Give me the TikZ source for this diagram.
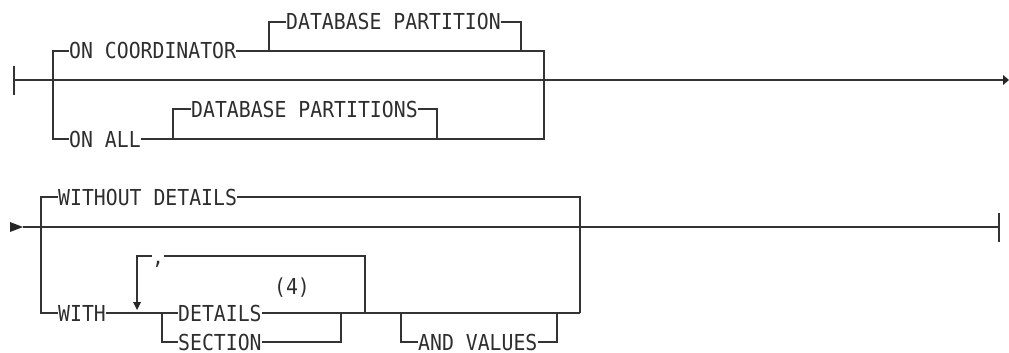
\documentclass[tikz,border=0pt]{standalone}
\usepackage{fontspec}
\newfontfamily\kwfont[FakeStretch=0.9]{DejaVu Sans Mono}
\tikzset{
  kw/.style={inner sep=0pt, text height=16pt, text depth=0pt, font=\fontsize{22}{22}\selectfont\kwfont, anchor=west, text=black!82},
  ln/.style={line width=1.4pt, draw=black!80},
  tipfill/.style={fill=black!85, draw=none}
}
\begin{document}
\begin{tikzpicture}[x=1pt,y=-1pt]
\useasboundingbox (0,0) rectangle (1009,353);
% ---------- top diagram ----------
\node[kw] (ONC) at (69,51) {ON COORDINATOR};
\node[kw] (DBP) at (286,22) {DATABASE PARTITION};
\node[kw] (ONALL) at (69,139) {ON ALL};
\node[kw] (DBPS) at (191,109) {DATABASE PARTITIONS};
\coordinate (s1) at (14,80);
\coordinate (s1a) at (14,66);
\coordinate (s1b) at (14,95);
\coordinate (e1) at (1003,80);
\coordinate (e1t) at (1009,80);
\coordinate (e1a) at (1003,75);
\coordinate (e1b) at (1003,85);
\coordinate (j1t) at (53,51);
\coordinate (j1b) at (53,139);
\coordinate (j2t) at (544,51);
\coordinate (j2b) at (544,139);
\coordinate (d1) at (269,51);
\coordinate (d1t) at (269,22);
\coordinate (d2t) at (521,22);
\coordinate (d2) at (521,51);
\coordinate (p1) at (173,139);
\coordinate (p1t) at (173,109);
\coordinate (p2t) at (437,109);
\coordinate (p2) at (437,139);
\draw[ln] (s1a) -- (s1b);
\draw[ln] (s1) -- (e1);
\fill[tipfill] (e1a) -- (e1t) -- (e1b) -- cycle;
\draw[ln] (ONC.west) -- (j1t) -- (j1b) -- (ONALL.west);
\draw[ln] (ONC.east) -- (j2t) -- (j2b) -- (ONALL.east);
\draw[ln] (d1) -- (d1t) -- (DBP.west);
\draw[ln] (DBP.east) -- (d2t) -- (d2);
\draw[ln] (p1) -- (p1t) -- (DBPS.west);
\draw[ln] (DBPS.east) -- (p2t) -- (p2);
% ---------- bottom diagram ----------
\node[kw] (WOD) at (58,197) {WITHOUT DETAILS};
\node[kw] (WITH) at (58,313) {WITH};
\node[kw] (DET) at (178,313) {DETAILS};
\node[kw] (SEC) at (178,342) {SECTION};
\node[kw] (AV) at (418,342) {AND VALUES};
\node[kw] (COMMA) at (152,256) {,};
\node[kw, anchor=center] (NOTE) at (292,286) {(4)};
\coordinate (t0) at (10,222);
\coordinate (t1) at (10,232);
\coordinate (s2) at (23,227);
\coordinate (e2) at (999,227);
\coordinate (e2a) at (999,213);
\coordinate (e2b) at (999,242);
\coordinate (k1t) at (41,197);
\coordinate (k1b) at (41,313);
\coordinate (k2t) at (580,197);
\coordinate (k2b) at (580,313);
\coordinate (q1) at (162,313);
\coordinate (q1b) at (162,342);
\coordinate (q2b) at (341,342);
\coordinate (q2) at (341,313);
\coordinate (r1) at (137,302);
\coordinate (r1a) at (133,302);
\coordinate (r1b) at (141,302);
\coordinate (r1tip) at (137,310);
\coordinate (r1t) at (137,256);
\coordinate (r2t) at (365,256);
\coordinate (r2) at (365,313);
\coordinate (a1) at (401,313);
\coordinate (a1b) at (401,342);
\coordinate (a2b) at (557,342);
\coordinate (a2) at (557,313);
\fill[tipfill] (t0) -- (s2) -- (t1) -- cycle;
\draw[ln] (s2) -- (e2);
\draw[ln] (e2a) -- (e2b);
\draw[ln] (WOD.west) -- (k1t) -- (k1b) -- (WITH.west);
\draw[ln] (WOD.east) -- (k2t) -- (k2b);
\draw[ln] (WITH.east) -- (DET.west);
\draw[ln] (DET.east) -- (k2b);
\draw[ln] (q1) -- (q1b) -- (SEC.west);
\draw[ln] (SEC.east) -- (q2b) -- (q2);
\draw[ln] (r2) -- (r2t) -- (COMMA.east);
\draw[ln] (COMMA.west) -- (r1t) -- (r1);
\fill[tipfill] (r1a) -- (r1tip) -- (r1b) -- cycle;
\draw[ln] (a1) -- (a1b) -- (AV.west);
\draw[ln] (AV.east) -- (a2b) -- (a2);
\end{tikzpicture}
\end{document}
